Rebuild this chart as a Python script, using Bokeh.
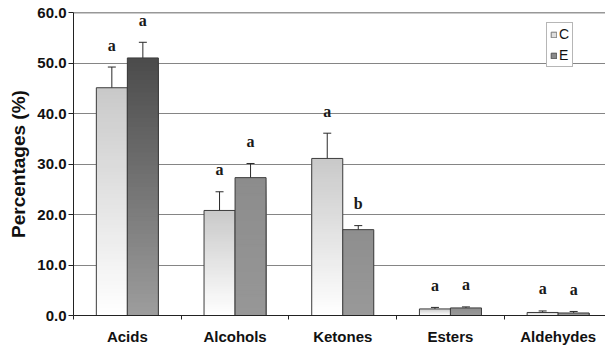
import numpy as np
from bokeh.plotting import figure
from bokeh.models import (Range1d, FixedTicker, ColumnDataSource, Whisker, TeeHead,
                          Span, Legend, LegendItem)
from bokeh.core.properties import value
from bokeh.embed import file_html
from bokeh.resources import INLINE

# Relative abundance of volatile classes, control (C) vs exposed (E)
categories = ["Acids", "Alcohols", "Ketones", "Esters", "Aldehydes"]
control = [45.1, 20.8, 31.1, 1.3, 0.6]
control_err = [4.1, 3.7, 5.0, 0.3, 0.3]
exposed = [51.0, 27.3, 17.0, 1.5, 0.5]
exposed_err = [3.1, 2.8, 0.8, 0.2, 0.3]
control_letters = ["a", "a", "a", "a", "a"]
exposed_letters = ["a", "a", "b", "a", "a"]
y_ticks = [0, 10, 20, 30, 40, 50, 60]

# fill styles: (top colour, bottom colour) of each bar's vertical gradient
control_fill = [("#c9c9c9", "#ffffff")] * 5
exposed_fill = [("#4b4b4b", "#9d9d9d"), ("#8c8c8c", "#979797"), ("#8e8e8e", "#999999"),
                ("#8e8e8e", "#999999"), ("#8e8e8e", "#999999")]

BAR_W = 0.288

p = figure(width=605, height=347, output_backend="svg", toolbar_location=None,
           x_range=Range1d(0, 532 / 107.7), y_range=Range1d(0, 60),
           min_border_left=73, min_border_right=0, min_border_top=12, min_border_bottom=31)
p.outline_line_color = None
p.background_fill_color = "white"
p.border_fill_color = "white"

# horizontal gridlines
p.xgrid.visible = False
p.ygrid.ticker = FixedTicker(ticks=y_ticks)
p.ygrid.grid_line_color = "#858585"
p.ygrid.grid_line_width = 1
p.add_layout(Span(location=60, dimension="width", line_color="#333333", line_width=1.5))


def hex_to_rgb(h):
    h = h.lstrip("#")
    return np.array([int(h[i:i + 2], 16) for i in (0, 2, 4)], dtype=float)


def gradient_bar(left, right, height, top, bottom, n=60):
    """Draw one bar as overlapping layers, tallest first, blending bottom to top colour."""
    tops = np.linspace(0, height, n + 1)[1:][::-1]
    c0, c1 = hex_to_rgb(bottom), hex_to_rgb(top)
    cols = []
    for k in range(n):
        t = 1 - (k + 0.5) / n
        c = c0 + (c1 - c0) * t
        cols.append("#%02x%02x%02x" % tuple(int(round(v)) for v in c))
    p.quad(left=[left] * n, right=[right] * n, bottom=[0] * n, top=tops,
           fill_color=cols, line_color=None)
    p.quad(left=[left], right=[right], bottom=[0], top=[height],
           fill_color=None, line_color="#3c3c3c", line_width=1)


centers = [i + 0.5 for i in range(len(categories))]
for i, c in enumerate(centers):
    gradient_bar(c - BAR_W, c, control[i], *control_fill[i])
    gradient_bar(c, c + BAR_W, exposed[i], *exposed_fill[i])

# error bars
for vals, errs, shift in ((control, control_err, -BAR_W / 2), (exposed, exposed_err, BAR_W / 2)):
    src = ColumnDataSource(dict(
        x=[c + shift for c in centers],
        upper=[v + e for v, e in zip(vals, errs)],
        lower=[v - e for v, e in zip(vals, errs)],
    ))
    w = Whisker(base="x", upper="upper", lower="lower", source=src,
                line_color="#2a2a2a", line_width=1,
                upper_head=TeeHead(size=8, line_color="#2a2a2a", line_width=1),
                lower_head=TeeHead(size=8, line_color="#2a2a2a", line_width=1))
    p.add_layout(w)

# significance letters above each error bar
letters_src = ColumnDataSource(dict(
    x=[c - BAR_W / 2 for c in centers] + [c + BAR_W / 2 for c in centers],
    y=[v + e for v, e in zip(control, control_err)] + [v + e for v, e in zip(exposed, exposed_err)],
    t=control_letters + exposed_letters,
))
p.text(x="x", y="y", text="t", source=letters_src, text_font=value("Liberation Serif"),
       text_font_style="bold", text_font_size="16px", text_align="center",
       text_baseline="alphabetic", y_offset=-22, text_color="#1a1a1a")

# y axis
p.yaxis.ticker = FixedTicker(ticks=y_ticks)
p.yaxis.major_label_overrides = {t: f"{t:.1f}" for t in y_ticks}
p.yaxis.axis_label = "Percentages (%)"
p.yaxis.axis_label_text_font = "Liberation Sans"
p.yaxis.axis_label_text_font_style = "bold"
p.yaxis.axis_label_text_font_size = "19px"
p.yaxis.axis_label_text_color = "#111111"
p.yaxis.axis_label_standoff = 5
p.yaxis.major_label_text_font = "Liberation Sans"
p.yaxis.major_label_text_font_style = "bold"
p.yaxis.major_label_text_font_size = "15px"
p.yaxis.major_label_text_color = "#111111"
p.yaxis.major_label_standoff = 2
p.yaxis.major_tick_out = 5
p.yaxis.major_tick_in = 0
p.yaxis.minor_tick_line_color = None
p.yaxis.axis_line_color = "#222222"
p.yaxis.major_tick_line_color = "#222222"

# x axis: labels at category centres, tick marks at category boundaries
p.xaxis.ticker = FixedTicker(ticks=centers, minor_ticks=[0, 1, 2, 3, 4, 5])
p.xaxis.major_label_overrides = {c: name for c, name in zip(centers, categories)}
p.xaxis.major_tick_out = 0
p.xaxis.major_tick_in = 0
p.xaxis.minor_tick_out = 4
p.xaxis.minor_tick_in = 0
p.xaxis.minor_tick_line_color = "#222222"
p.xaxis.axis_line_color = "#222222"
p.xaxis.major_label_text_font = "Liberation Sans"
p.xaxis.major_label_text_font_style = "bold"
p.xaxis.major_label_text_font_size = "15px"
p.xaxis.major_label_text_color = "#111111"
p.xaxis.major_label_standoff = 8

# legend with small square swatches (swatch glyphs sit outside the visible range)
sw_c = p.quad(left=[-5], right=[-4], bottom=[-5], top=[-4],
              fill_color="#dedede", line_color="#777777")
sw_e = p.quad(left=[-5], right=[-4], bottom=[-5], top=[-4],
              fill_color="#8a8a8a", line_color="#555555")
legend = Legend(items=[LegendItem(label="C", renderers=[sw_c]), LegendItem(label="E", renderers=[sw_e])],
                location=(473, 248), orientation="vertical",
                label_text_font="Liberation Sans", label_text_font_size="14px",
                label_text_color="#111111",
                glyph_width=7, glyph_height=7, label_height=15, label_width=10,
                label_standoff=2, spacing=5, padding=3, margin=0,
                border_line_color="#6e6e6e", border_line_width=1,
                background_fill_color="white", background_fill_alpha=1)
p.add_layout(legend)

open("out.html", "w").write(file_html(p, INLINE))
